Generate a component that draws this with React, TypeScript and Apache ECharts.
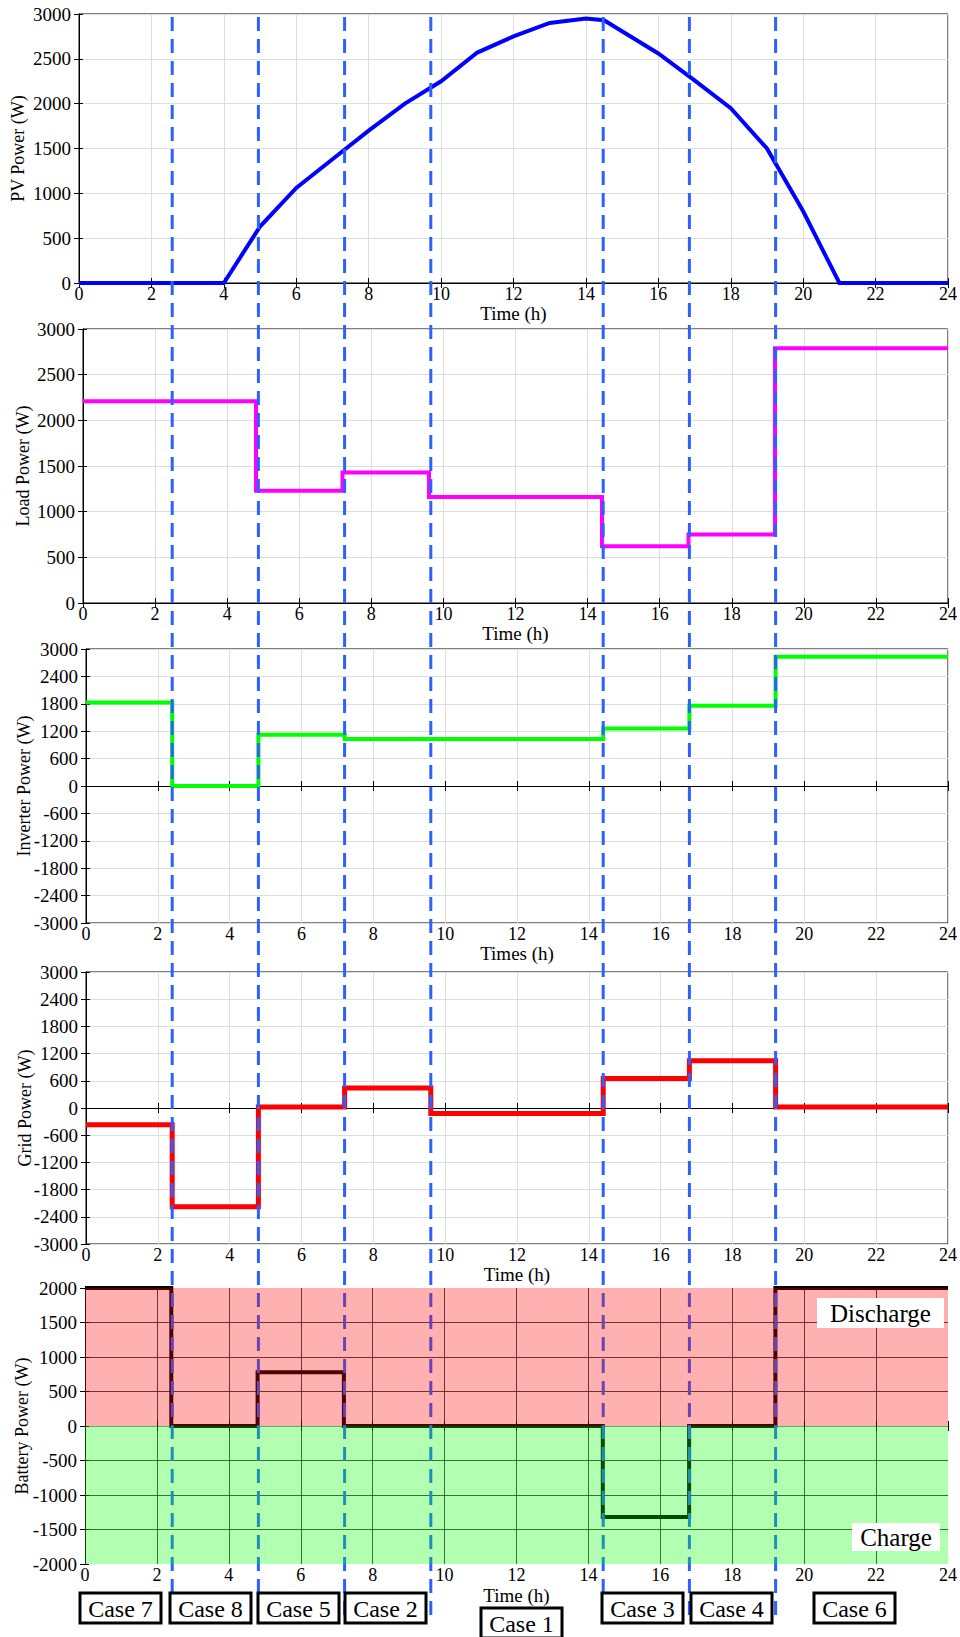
import React, { useEffect, useRef } from "react";
import * as echarts from "echarts";

// ---------------- data ----------------
const xTicks = [0, 2, 4, 6, 8, 10, 12, 14, 16, 18, 20, 22, 24];

const pvTime = [0, 1, 2, 3, 4, 5, 6, 7, 8, 9, 10, 11, 12, 13, 14, 14.5, 16, 17, 18, 19, 20, 21, 22, 23, 24];
const pvPower = [0, 0, 0, 0, 0, 630, 1060, 1380, 1700, 2000, 2250, 2570, 2750, 2900, 2950, 2930, 2560, 2260, 1950, 1500, 800, 0, 0, 0, 0];

const loadTime = [0, 4.8, 7.2, 9.6, 14.4, 16.8, 19.2, 24];
const loadPower = [2210, 1230, 1430, 1160, 620, 750, 2790, 2790];

const invTime = [0, 2.4, 4.8, 7.2, 14.4, 16.8, 19.2, 24];
const invPower = [1830, 0, 1120, 1030, 1260, 1760, 2830, 2830];

const gridTime = [0, 2.4, 4.8, 7.2, 9.6, 14.4, 16.8, 19.2, 24];
const gridPower = [-370, -2180, 20, 440, -120, 650, 1040, 20, 20];

const batTime = [0, 2.4, 4.8, 7.2, 14.4, 16.8, 19.2, 24];
const batPower = [2000, 0, 780, 0, -1320, 0, 2000, 2000];

const caseBoundaries = [2.4, 4.8, 7.2, 9.6, 14.4, 16.8, 19.2];
const caseLabels = ["Case 7", "Case 8", "Case 5", "Case 2", "Case 1", "Case 3", "Case 4", "Case 6"];

// ---------------- layout ----------------
const FONT = "'Liberation Serif', 'Times New Roman', Times, serif";

const panels = [
  { grid: { left: 79, top: 14, width: 871, height: 269 }, yName: "PV Power (W)", xName: "Time (h)", min: 0, max: 3000, interval: 500, yGap: 52, xGap: 21 },
  { grid: { left: 83, top: 329, width: 868, height: 274 }, yName: "Load Power (W)", xName: "Time (h)", min: 0, max: 3000, interval: 500, yGap: 51, xGap: 21 },
  { grid: { left: 86, top: 649, width: 863, height: 274 }, yName: "Inverter Power (W)", xName: "Times (h)", min: -3000, max: 3000, interval: 600, yGap: 53, xGap: 21 },
  { grid: { left: 86, top: 972, width: 865, height: 272 }, yName: "Grid Power (W)", xName: "Time (h)", min: -3000, max: 3000, interval: 600, yGap: 52, xGap: 21 },
  { grid: { left: 85, top: 1288, width: 864, height: 276 }, yName: "Battery Power (W)", xName: "Time (h)", min: -2000, max: 2000, interval: 500, yGap: 54, xGap: 22 },
];

const caseBoxes = [
  { x: 80, y: 1593, w: 81, h: 30 },
  { x: 170, y: 1593, w: 81, h: 30 },
  { x: 258, y: 1593, w: 81, h: 30 },
  { x: 345, y: 1593, w: 81, h: 30 },
  { x: 481, y: 1608, w: 81, h: 30 },
  { x: 602, y: 1593, w: 81, h: 30 },
  { x: 691, y: 1593, w: 81, h: 30 },
  { x: 814, y: 1593, w: 81, h: 30 },
];

const pairs = (t: number[], v: number[]) => t.map((x, i) => [x, v[i]]);

export default function App() {
  const ref = useRef<HTMLDivElement>(null);

  useEffect(() => {
    document.body.style.margin = "0";
    const chart = echarts.init(ref.current!, null, { renderer: "svg" });

    const xAxis: any[] = [];
    const yAxis: any[] = [];
    panels.forEach((p, i) => {
      const isBat = i === 4;
      const splitColor = isBat ? "rgba(0,0,0,0.75)" : "#dedede";
      xAxis.push({
        type: "value",
        gridIndex: i,
        min: 0,
        max: 24,
        interval: 2,
        position: "bottom",
        name: p.xName,
        nameLocation: "middle",
        nameGap: p.xGap,
        nameMoveOverlap: false,
        nameTextStyle: { fontFamily: FONT, fontSize: 19, color: "#000" },
        axisLine: { show: true, lineStyle: { color: isBat ? "#8a8a8a" : "#000", width: 1 } },
        axisTick: { show: true, inside: true, length: 5, lineStyle: { color: "#000" } },
        axisLabel: { fontFamily: FONT, fontSize: 18, color: "#000", margin: 2, formatter: (v: number) => String(v) },
        splitLine: { show: true, showMinLine: !isBat, showMaxLine: !isBat, lineStyle: { color: splitColor, width: 1 } },
      });
      xAxis.push({
        type: "value",
        gridIndex: i,
        min: 0,
        max: 24,
        interval: 2,
        position: "top",
        axisLine: { show: !isBat, lineStyle: { color: "#000" } },
        axisTick: { show: true, inside: true, length: 5, lineStyle: { color: "#000" } },
        axisLabel: { show: false },
        splitLine: { show: false },
      });
      yAxis.push({
        type: "value",
        gridIndex: i,
        min: p.min,
        max: p.max,
        interval: p.interval,
        position: "left",
        name: p.yName,
        nameLocation: "middle",
        nameGap: p.yGap,
        nameRotate: 90,
        nameMoveOverlap: false,
        nameTextStyle: { fontFamily: FONT, fontSize: 18, color: "#000" },
        axisLine: { show: !isBat, lineStyle: { color: "#000" } },
        axisTick: { show: true, inside: true, length: 4, lineStyle: { color: "#000" } },
        axisLabel: { fontFamily: FONT, fontSize: 19, color: "#000", margin: 8, formatter: (v: number) => String(v) },
        splitLine: { show: true, showMinLine: !isBat, showMaxLine: !isBat, lineStyle: { color: splitColor, width: 1 } },
      });
      yAxis.push({
        type: "value",
        gridIndex: i,
        min: p.min,
        max: p.max,
        interval: p.interval,
        position: "right",
        axisLine: { show: true, lineStyle: { color: "#000" } },
        axisTick: { show: true, inside: true, length: 5, lineStyle: { color: "#000" } },
        axisLabel: { show: false },
        splitLine: { show: false },
      });
    });

    const lineSeries = (i: number, data: number[][], color: string, width: number, step: any) => ({
      type: "line",
      xAxisIndex: 2 * i,
      yAxisIndex: 2 * i,
      data,
      step,
      symbol: "none",
      clip: false,
      z: 3,
      lineStyle: { color, width, join: "miter" },
      itemStyle: { color },
      silent: true,
    });

    const batSeries: any = lineSeries(4, pairs(batTime, batPower), "#000", 4, "end");
    batSeries.markArea = {
      silent: true,
      z: 40,
      data: [
        [
          { xAxis: 0, yAxis: 0, itemStyle: { color: "rgba(255,0,0,0.31)" } },
          { xAxis: 24, yAxis: 2000 },
        ],
        [
          { xAxis: 0, yAxis: -2000, itemStyle: { color: "rgba(0,255,0,0.3)" } },
          { xAxis: 24, yAxis: 0 },
        ],
      ],
    };

    const option: any = {
      animation: false,
      backgroundColor: "#fff",
      grid: panels.map((p, i) => ({
        ...p.grid,
        show: i !== 4,
        borderColor: "#000",
        borderWidth: 1,
        backgroundColor: "transparent",
        containLabel: false,
      })),
      xAxis,
      yAxis,
      series: [
        lineSeries(0, pairs(pvTime, pvPower), "#0000ff", 4, false),
        lineSeries(1, pairs(loadTime, loadPower), "#ff00ff", 4, "end"),
        lineSeries(2, pairs(invTime, invPower), "#00ff00", 4, "end"),
        lineSeries(3, pairs(gridTime, gridPower), "#ff0000", 5, "end"),
        batSeries,
      ],
    };

    chart.setOption(option);

    const graphic: any[] = [];
    caseBoundaries.forEach((t) => {
      const px = chart.convertToPixel({ gridIndex: 3 } as any, [t, 0]) as number[];
      graphic.push({
        type: "line",
        silent: true,
        z: 10,
        shape: { x1: px[0], y1: 17, x2: px[0], y2: 1622 },
        style: { stroke: "#2b62ff", lineWidth: 3, lineDash: [14, 8] },
      });
    });

    caseLabels.forEach((label, i) => {
      const b = caseBoxes[i];
      graphic.push({
        type: "rect",
        silent: true,
        z: 15,
        shape: { x: b.x, y: b.y, width: b.w, height: b.h },
        style: { fill: "#fff", stroke: "#000", lineWidth: 3 },
      });
      graphic.push({
        type: "text",
        silent: true,
        z: 16,
        style: {
          text: label,
          x: b.x + b.w / 2,
          y: b.y + b.h / 2 + 1,
          align: "center",
          verticalAlign: "middle",
          font: `24px ${FONT}`,
          fill: "#000",
        },
      });
    });

    // Discharge / Charge labels
    const regionLabels = [
      { text: "Discharge", x: 817, y: 1298, w: 127, h: 30 },
      { text: "Charge", x: 852, y: 1523, w: 88, h: 28 },
    ];
    regionLabels.forEach((r) => {
      graphic.push({
        type: "rect",
        silent: true,
        z: 50,
        shape: { x: r.x, y: r.y, width: r.w, height: r.h },
        style: { fill: "#fff", stroke: "none" },
      });
      graphic.push({
        type: "text",
        silent: true,
        z: 51,
        style: {
          text: r.text,
          x: r.x + r.w / 2,
          y: r.y + r.h / 2,
          align: "center",
          verticalAlign: "middle",
          font: `25px ${FONT}`,
          fill: "#000",
        },
      });
    });

    chart.setOption({ graphic });

    return () => chart.dispose();
  }, []);

  return <div ref={ref} style={{ width: 960, height: 1637 }} />;
}
